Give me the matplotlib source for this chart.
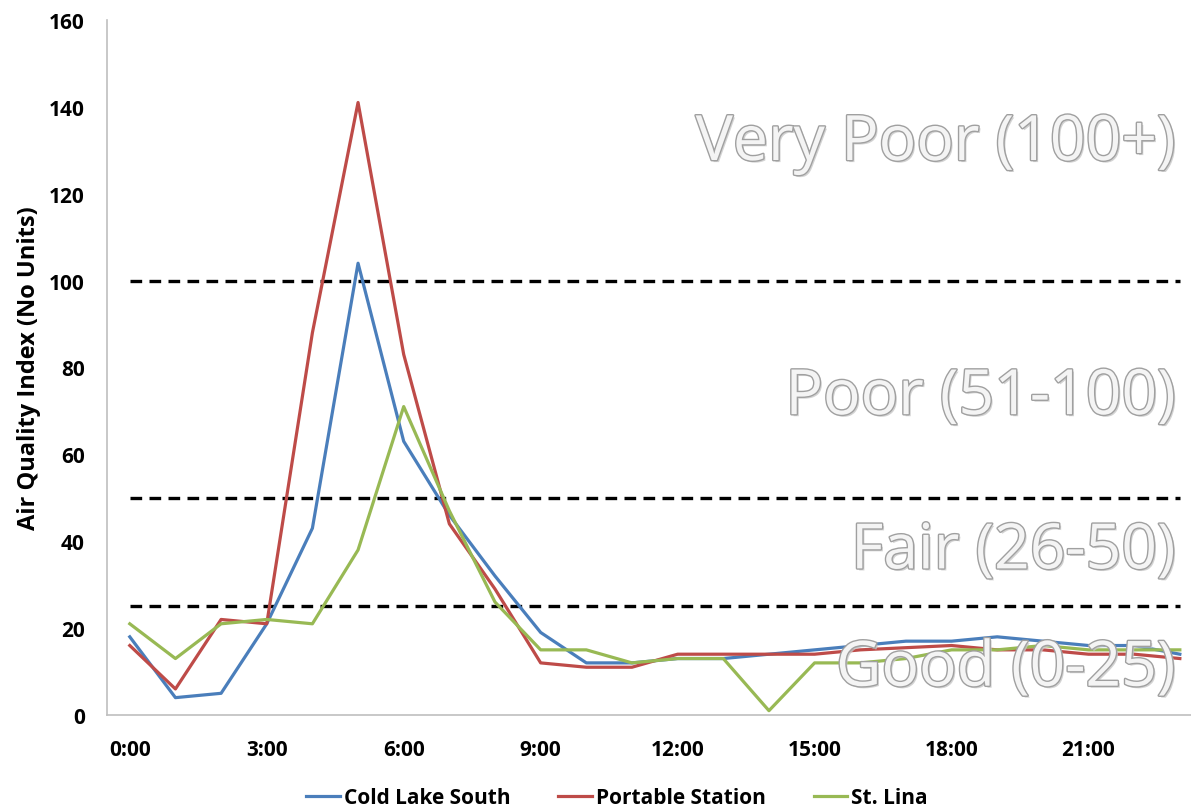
import matplotlib.pyplot as plt
import matplotlib.patheffects as pe

# hourly air quality index readings
hours = list(range(24))
cold_lake_south = [18, 4, 5, 21, 43, 104, 63, 46, 32, 19, 12, 12, 13, 13, 14, 15, 16, 17, 17, 18, 17, 16, 16, 14]
portable_station = [16, 6, 22, 21, 88, 141, 83, 44, 29, 12, 11, 11, 14, 14, 14, 14, 15, 15.5, 16, 15, 15, 14, 14, 13]
st_lina = [21, 13, 21, 22, 21, 38, 71, 47, 26, 15, 15, 12, 13, 13, 1, 12, 12, 13, 15, 15, 16, 15, 15, 15]

thresholds = [25, 50, 100]
band_labels = ['Very Poor (100+)', 'Poor (51-100)', 'Fair (26-50)', 'Good (0-25)']
band_label_y = [131.5, 73, 37.5, 10.5]

tick_hours = [0, 3, 6, 9, 12, 15, 18, 21]
tick_labels = ['0:00', '3:00', '6:00', '9:00', '12:00', '15:00', '18:00', '21:00']

plt.rcParams['font.family'] = ['Open Sans', 'DejaVu Sans']

fig = plt.figure(figsize=(11.91, 8.12), dpi=100)
ax = fig.add_axes([0.0898, 0.1182, 0.920, 0.856])

for t in thresholds:
    ax.plot(hours, [t] * len(hours), color='black', linestyle=(0, (3.5, 2.2)), linewidth=2.4, zorder=2)

ax.plot(hours, cold_lake_south, color='#4A7EBB', linewidth=2.3, label='Cold Lake South', zorder=3)
ax.plot(hours, portable_station, color='#BE4B48', linewidth=2.3, label='Portable Station', zorder=3)
ax.plot(hours, st_lina, color='#98B954', linewidth=2.3, label='St. Lina', zorder=3)

# big embossed band labels
effects = [pe.withSimplePatchShadow(offset=(1.5, -1.5), shadow_rgbFace='#c8c8c8', alpha=0.8),
           pe.withStroke(linewidth=2.0, foreground='#a0a0a0')]
for lab, y in zip(band_labels, band_label_y):
    ax.text(22.9, y, lab, ha='right', va='center', fontsize=45, color='#f4f4f4',
            path_effects=effects, zorder=5)

ax.set_xlim(-0.5, 23.5)
ax.set_ylim(0, 160)
ax.set_yticks(range(0, 161, 20))
ax.set_xticks(tick_hours)
ax.set_xticklabels(tick_labels)
ax.tick_params(length=0, labelsize=15)
ax.tick_params(axis='x', pad=17)
ax.tick_params(axis='y', pad=16)
for lbl in ax.get_xticklabels() + ax.get_yticklabels():
    lbl.set_fontweight('bold')

ax.set_ylabel('Air Quality Index (No Units)', fontsize=17, fontweight='bold', labelpad=6)

for side in ['top', 'right']:
    ax.spines[side].set_visible(False)
for side in ['left', 'bottom']:
    ax.spines[side].set_color('#bfbfbf')
    ax.spines[side].set_linewidth(1.2)

leg = fig.legend(loc='lower center', bbox_to_anchor=(0.518, -0.02), ncol=3, frameon=False,
                 prop={'size': 15, 'weight': 'bold'}, handlelength=1.6, handletextpad=0.2,
                 columnspacing=2.3)

plt.savefig('out.png', dpi=100)
